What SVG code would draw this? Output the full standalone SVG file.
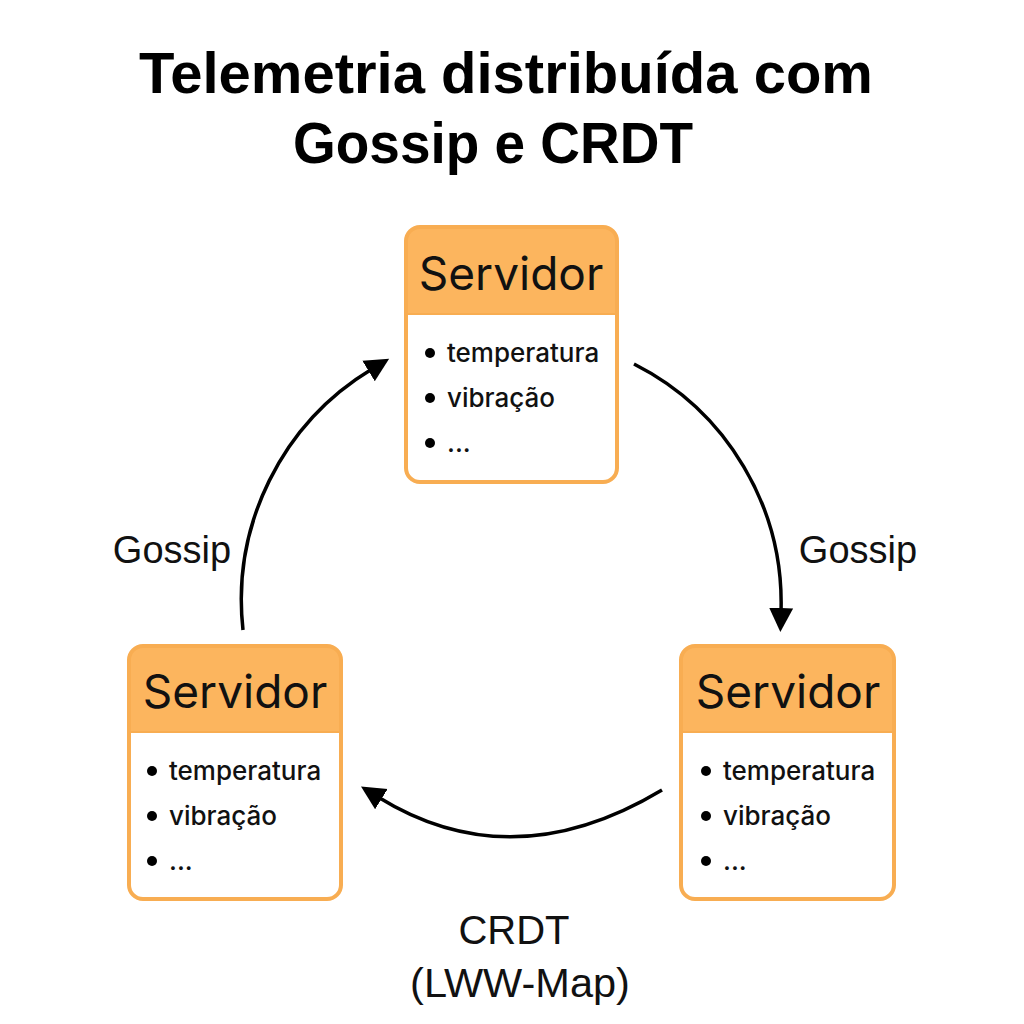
<svg xmlns="http://www.w3.org/2000/svg" width="1024" height="1024" viewBox="0 0 1024 1024">
<style>
.title{font-family:"Liberation Sans",Arial,sans-serif;font-weight:700;font-size:58px;fill:#000;text-anchor:middle}
.box{fill:none;stroke:#F8AD52;stroke-width:4}
.bg{fill:#fff}
.hdr{fill:#FCB55E}
.sep{stroke:#F8AD52;stroke-width:2}
.name{font-family:Inter,"Liberation Sans",sans-serif;font-size:46px;fill:#111;text-anchor:middle}
.item{font-family:Inter,"Liberation Sans",sans-serif;font-size:26px;font-weight:500;fill:#111}
.lbl{font-family:"Liberation Sans",Arial,sans-serif;font-size:38px;fill:#111;text-anchor:middle}
.lbl2{font-family:"Liberation Sans",Arial,sans-serif;font-size:40px;fill:#111;text-anchor:middle}
.lbl3{font-family:"Liberation Sans",Arial,sans-serif;font-size:41.5px;fill:#111;text-anchor:middle}
.edge{fill:none;stroke:#000;stroke-width:3.5}
</style>
<defs>
<marker id="ah" markerUnits="userSpaceOnUse" markerWidth="26" markerHeight="26" refX="4" refY="12" orient="auto" viewBox="0 0 26 24">
<path d="M0,0 L24,12 L0,24 z" fill="#000"/>
</marker>
<clipPath id="c1"><rect x="406" y="227" width="211" height="255" rx="14"/></clipPath>
<clipPath id="c2"><rect x="129" y="646" width="212" height="253" rx="14"/></clipPath>
<clipPath id="c3"><rect x="681" y="646" width="213" height="253" rx="14"/></clipPath>
</defs>
<rect width="1024" height="1024" fill="#fff"/>
<g id="title">
<text class="title" x="506" y="93">Telemetria distribuída com</text>
<text class="title" x="493" y="163" textLength="400" lengthAdjust="spacingAndGlyphs">Gossip e CRDT</text>
</g>
<g id="connectors">
<path class="edge" d="M634,364 A268,268 0 0 1 781,612" marker-end="url(#ah)"/>
<path class="edge" d="M243,630 A270,270 0 0 1 372,369" marker-end="url(#ah)"/>
<path class="edge" d="M662,790 Q512,880 378,797" marker-end="url(#ah)"/>
</g>
<g id="node-top">
<rect class="bg" x="406" y="227" width="211" height="255" rx="14"/>
<rect class="hdr" x="406" y="227" width="211" height="87" clip-path="url(#c1)"/>
<line class="sep" x1="406" y1="314" x2="617" y2="314"/>
<rect class="box" x="406" y="227" width="211" height="255" rx="14"/>
<text class="name" x="511" y="290">Servidor</text>
<circle cx="430" cy="353" r="5"/><text class="item" x="447" y="362">temperatura</text>
<circle cx="430" cy="398" r="5"/><text class="item" x="447" y="407">vibração</text>
<circle cx="430" cy="443" r="5"/><text class="item" x="447" y="452">...</text>
</g>
<g id="node-left">
<rect class="bg" x="129" y="646" width="212" height="253" rx="14"/>
<rect class="hdr" x="129" y="646" width="212" height="86" clip-path="url(#c2)"/>
<line class="sep" x1="129" y1="732" x2="341" y2="732"/>
<rect class="box" x="129" y="646" width="212" height="253" rx="14"/>
<text class="name" x="235" y="708">Servidor</text>
<circle cx="152" cy="771" r="5"/><text class="item" x="169" y="780">temperatura</text>
<circle cx="152" cy="816" r="5"/><text class="item" x="169" y="825">vibração</text>
<circle cx="152" cy="861" r="5"/><text class="item" x="169" y="870">...</text>
</g>
<g id="node-right">
<rect class="bg" x="681" y="646" width="213" height="253" rx="14"/>
<rect class="hdr" x="681" y="646" width="213" height="86" clip-path="url(#c3)"/>
<line class="sep" x1="681" y1="732" x2="894" y2="732"/>
<rect class="box" x="681" y="646" width="213" height="253" rx="14"/>
<text class="name" x="788" y="708">Servidor</text>
<circle cx="706" cy="771" r="5"/><text class="item" x="723" y="780">temperatura</text>
<circle cx="706" cy="816" r="5"/><text class="item" x="723" y="825">vibração</text>
<circle cx="706" cy="861" r="5"/><text class="item" x="723" y="870">...</text>
</g>
<g id="labels">
<text class="lbl" x="172" y="563">Gossip</text>
<text class="lbl" x="858" y="563">Gossip</text>
<text class="lbl2" x="514" y="944">CRDT</text>
<text class="lbl3" x="520" y="997">(LWW-Map)</text>
</g>
</svg>
